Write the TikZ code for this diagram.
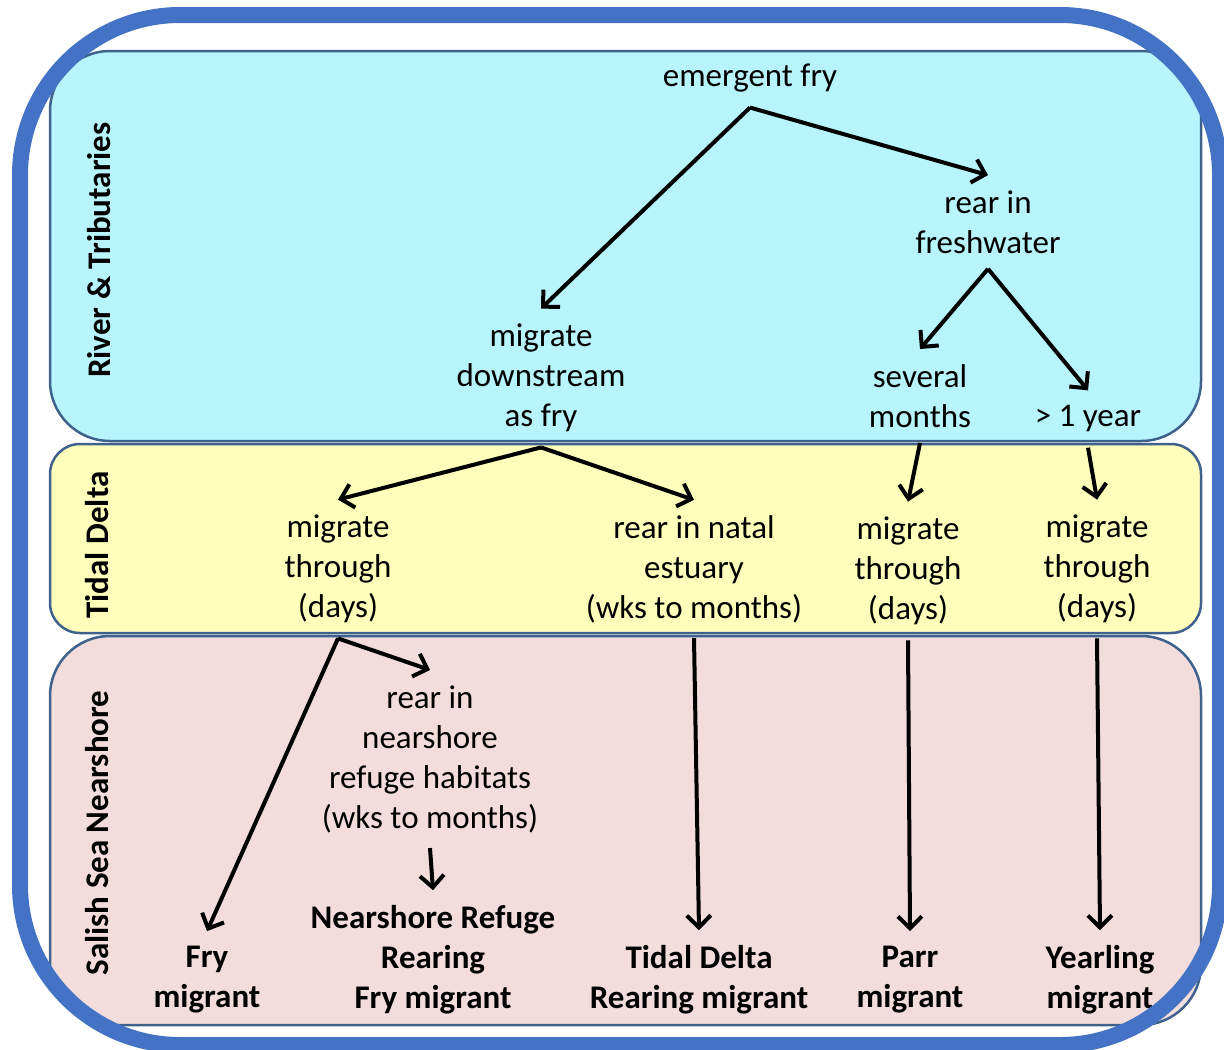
\documentclass[tikz,border=0pt]{standalone}
\usepackage{fontspec}
\setmainfont{Carlito}
\usepackage{tikz}
\usetikzlibrary{arrows.meta}
\usepackage{xcolor}
\definecolor{riverblue}{RGB}{183,244,252}
\definecolor{deltayellow}{RGB}{255,255,187}
\definecolor{shorepink}{RGB}{242,221,220}
\definecolor{bandline}{RGB}{62,98,140}
\definecolor{frameblue}{RGB}{68,114,196}

\tikzset{
    band/.style={draw=bandline, line width=1.25pt},
    stage/.style={align=center, inner sep=7.5pt, font=\fontsize{16.5}{20}\selectfont},
    result/.style={stage, font=\fontsize{16.5}{20}\selectfont\bfseries},
    zone/.style={rotate=90, font=\fontsize{16.5}{20}\selectfont\bfseries},
    arr/.style={-{Straight Barb[length=6pt,width=12pt]}, line width=2pt},
}

\begin{document}
\begin{tikzpicture}[x=0.5pt, y=-0.5pt]
    \useasboundingbox (0,0) rectangle (1224,1049);
    \clip (0,0) rectangle (1224,1049);
    % Bands
    \draw[band, fill=riverblue, rounded corners=30pt] (50,51) rectangle (1201,441);
    \draw[band, fill=deltayellow, rounded corners=15pt] (50,444) rectangle (1201,633);
    \draw[band, fill=shorepink, rounded corners=30pt] (50,636) rectangle (1201,1025);
    % Zone labels
    \node[zone] (zriver) at (99,250) {River \& Tributaries};
    \node[zone] (zdelta) at (97,545) {Tidal Delta};
    \node[zone] (zshore) at (97,833) {Salish Sea Nearshore};
    % River and tributaries
    \node[stage] (emerg) at (750,78) {emergent fry};
    \node[stage] (fresh) at (988,222) {rear in\\freshwater};
    \node[stage] (down) at (541,378) {migrate\\downstream\\as fry};
    \node[stage] (months) at (920,396) {several\\months};
    \node[stage] (year) at (1088,419) {> 1 year};
    % Tidal delta
    \node[stage] (thru1) at (338,569) {migrate\\through\\(days)};
    \node[stage] (natal) at (694,569) {rear in natal\\estuary\\(wks to months)};
    \node[stage] (thru2) at (908,571) {migrate\\through\\(days)};
    \node[stage] (thru3) at (1097,569) {migrate\\through\\(days)};
    % Nearshore
    \node[stage] (refuge) at (430,759) {rear in\\nearshore\\refuge habitats\\(wks to months)};
    \node[result] (frym) at (207,980) {Fry\\migrant};
    \node[result] (refm) at (433,960) {Nearshore Refuge\\Rearing\\Fry migrant};
    \node[result] (deltam) at (699,980) {Tidal Delta\\Rearing migrant};
    \node[result] (parrm) at (910,980) {Parr\\migrant};
    \node[result] (yearm) at (1100,980) {Yearling\\migrant};
    % Arrows
    \draw[arr] (emerg.south) -- (down.north);
    \draw[arr] (emerg.south) -- (fresh.north);
    \draw[arr] (fresh.south) -- (months.north);
    \draw[arr] (fresh.south) -- (year.north);
    \draw[arr] (down.south) -- (thru1.north);
    \draw[arr] (down.south) -- (natal.north);
    \draw[arr] (months.south) -- (thru2.north);
    \draw[arr] (year.south) -- (thru3.north);
    \draw[arr] (thru1.south) -- (frym.north);
    \draw[arr] (thru1.south) -- (refuge.north);
    \draw[arr] (refuge.south) -- (refm.north);
    \foreach \a/\b in {natal/deltam, thru2/parrm, thru3/yearm} {
        \draw[arr] (\a.south) -- (\b.north);
    }
    % Outer frame
    \draw[frameblue, line width=8pt, rounded corners=80pt] (20,15) rectangle (1220,1045);
\end{tikzpicture}
\end{document}
